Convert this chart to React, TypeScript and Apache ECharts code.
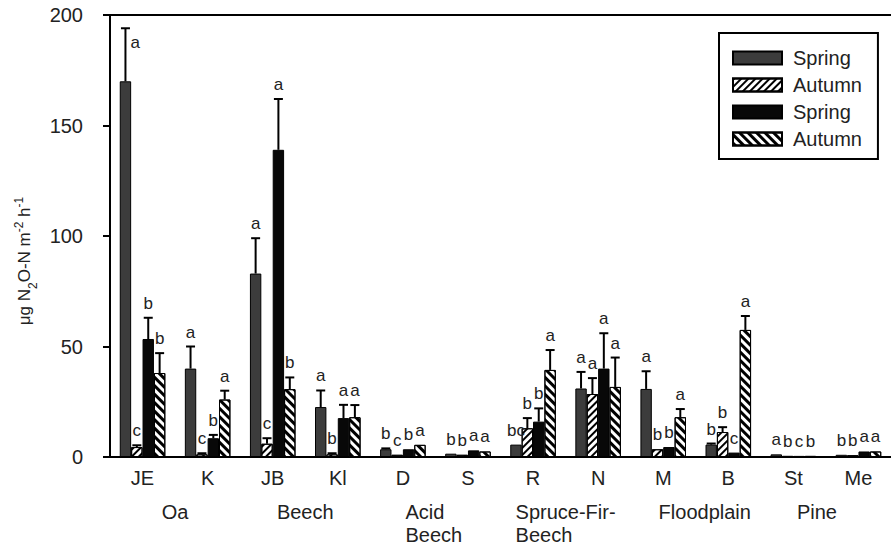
import React, { useEffect, useRef } from "react";
import * as echarts from "echarts";

const sites = ["JE", "K", "JB", "Kl", "D", "S", "R", "N", "M", "B", "St", "Me"];
const groups = ["Oa", "Beech", "Acid\nBeech", "Spruce-Fir-\nBeech", "Floodplain", "Pine"];
const yTicks = [0, 50, 100, 150, 200];

const spring1 = [170, 40, 83, 22.6, 3.5, 1.5, 5.6, 31, 30.8, 5.6, 1.2, 1.0];
const spring1Err = [24, 10, 16, 7.5, 0.4, 0, 0, 7.5, 8, 0.5, 0, 0];
const autumn1 = [4.5, 1.2, 6, 1.2, 1, 1, 13, 28.5, 3.5, 11.3, 0.5, 0.8];
const autumn1Err = [0.8, 0.5, 2.5, 0.5, 0, 0, 4.6, 7.2, 0, 2.2, 0, 0];
const spring2 = [53.4, 8.5, 139, 17.6, 3.5, 3, 16, 40, 4.5, 2, 0.5, 2.5];
const spring2Err = [9.6, 1.5, 23, 6, 0, 0, 6, 16, 0, 0, 0, 0];
const autumn2 = [38, 26, 30.7, 18, 5.5, 2.5, 39.4, 31.7, 18, 57.5, 0.5, 2.5];
const autumn2Err = [9, 4, 5.3, 5.5, 0, 0, 9, 13.3, 3.7, 6.3, 0, 0];

const spring1Letters = ["a", "a", "a", "a", "b", "b", "bc", "a", "a", "b", "a", "b"];
const autumn1Letters = ["c", "c", "c", "b", "c", "b", "b", "a", "b", "b", "b", "b"];
const spring2Letters = ["b", "b", "a", "a", "b", "a", "b", "a", "b", "c", "c", "a"];
const autumn2Letters = ["b", "a", "b", "a", "a", "a", "a", "a", "a", "a", "b", "a"];

const FONT = '"Liberation Sans", Arial, Helvetica, sans-serif';
const TXT = "#222";

const defs = [
  { name: "Spring 1", values: spring1, errs: spring1Err, letters: spring1Letters, color: "#3c3c3c", decal: null as any },
  {
    name: "Autumn 1", values: autumn1, errs: autumn1Err, letters: autumn1Letters, color: "#ffffff",
    decal: { symbol: "rect", symbolSize: 1, dashArrayX: [1, 0], dashArrayY: [1.3, 2.6], rotation: -Math.PI / 4, color: "#000" },
  },
  { name: "Spring 2", values: spring2, errs: spring2Err, letters: spring2Letters, color: "#080808", decal: null as any },
  {
    name: "Autumn 2", values: autumn2, errs: autumn2Err, letters: autumn2Letters, color: "#ffffff",
    decal: { symbol: "rect", symbolSize: 1, dashArrayX: [1, 0], dashArrayY: [2.2, 2.4], rotation: Math.PI / 4, color: "#000" },
  },
];

const CAT_GAP = 0.3;

function buildOption() {
  const barSeries = defs.map((d) => ({
    name: d.name,
    type: "bar",
    xAxisIndex: 0,
    yAxisIndex: 0,
    data: d.values,
    barGap: "0%",
    barCategoryGap: "30%",
    itemStyle: {
      color: d.color,
      borderColor: "#000",
      borderWidth: 1,
      ...(d.decal ? { decal: d.decal } : {}),
    },
    z: 2,
  }));

  const errSeries = defs.map((d, k) => ({
    name: d.name + " err",
    type: "custom",
    xAxisIndex: 0,
    yAxisIndex: 0,
    z: 5,
    data: sites.map((_, i) => [i, d.values[i], d.errs[i]]),
    encode: { x: 0, y: 1 },
    renderItem: (params: any, api: any) => {
      const ci = api.value(0);
      const v = api.value(1);
      const e = api.value(2);
      const base = api.coord([ci, v]);
      const top = api.coord([ci, v + e]);
      const plotTop = api.coord([ci, yTicks[yTicks.length - 1]])[1];
      const band = api.size([1, 0])[0];
      const bw = (band * (1 - CAT_GAP)) / 4;
      const cx = base[0] + (k - 1.5) * bw;
      const children: any[] = [];
      if (e > 0) {
        children.push({
          type: "line",
          shape: { x1: cx, y1: base[1], x2: cx, y2: top[1] },
          style: { stroke: "#000", lineWidth: 2 },
        });
        children.push({
          type: "line",
          shape: { x1: cx - 4.5, y1: top[1], x2: cx + 4.5, y2: top[1] },
          style: { stroke: "#000", lineWidth: 2 },
        });
      }
      const above = top[1] - 26 > plotTop;
      children.push({
        type: "text",
        x: above ? cx : cx + 5,
        y: above ? top[1] - 6 : top[1] + 6,
        style: {
          text: d.letters[params.dataIndex],
          fill: TXT,
          fontSize: 17,
          fontFamily: FONT,
          align: above ? "center" : "left",
          verticalAlign: above ? "bottom" : "top",
        },
      });
      return { type: "group", children };
    },
  }));

  return {
    animation: false,
    backgroundColor: "#fff",
    grid: { left: 110, right: -12, top: 15, bottom: 89, containLabel: false },
    legend: {
      data: defs.map((d) => d.name),
      orient: "vertical",
      left: 719,
      top: 33,
      itemWidth: 49,
      itemHeight: 13,
      itemGap: 7,
      padding: [15, 16, 10, 13],
      borderColor: "#000",
      borderWidth: 2,
      icon: "rect",
      formatter: (name: string) => name.split(" ")[0],
      textStyle: { fontSize: 20, fontFamily: FONT, color: TXT, lineHeight: 19, padding: [0, 0, 0, 6] },
    },
    xAxis: [
      {
        type: "category",
        data: sites,
        position: "bottom",
        axisLine: { show: true, lineStyle: { color: "#000", width: 2 } },
        axisTick: { show: false },
        axisLabel: { interval: 0, fontSize: 20, fontFamily: FONT, color: TXT, margin: 11 },
        splitLine: { show: false },
      },
      {
        type: "category",
        data: groups,
        position: "bottom",
        offset: 35,
        axisLine: { show: false },
        axisTick: { show: false },
        splitLine: { show: false },
        axisLabel: {
          interval: 0,
          margin: 8,
          formatter: (v: string, i: number) => {
            const key = ["n", "n", "l1", "l2", "fp", "pn"][i] || "n";
            return v
              .split("\n")
              .map((s) => `{${key}|${s}}`)
              .join("\n");
          },
          rich: {
            n: { fontSize: 20, fontFamily: FONT, color: TXT, lineHeight: 23 },
            l1: { fontSize: 20, fontFamily: FONT, color: TXT, lineHeight: 23, width: 60, align: "left" },
            l2: { fontSize: 20, fontFamily: FONT, color: TXT, lineHeight: 23, width: 100, align: "left" },
            fp: { fontSize: 20, fontFamily: FONT, color: TXT, lineHeight: 23, padding: [0, 0, 0, 18] },
            pn: { fontSize: 20, fontFamily: FONT, color: TXT, lineHeight: 23, padding: [0, 18, 0, 0] },
          },
        },
      },
      {
        type: "category",
        data: sites,
        position: "top",
        axisLine: { show: true, lineStyle: { color: "#000", width: 2 } },
        axisTick: { show: false },
        axisLabel: { show: false },
        splitLine: { show: false },
      },
    ],
    yAxis: {
      type: "value",
      min: yTicks[0],
      max: yTicks[yTicks.length - 1],
      interval: 50,
      axisLine: { show: true, lineStyle: { color: "#000", width: 2 } },
      axisTick: { show: true, length: 7, lineStyle: { color: "#000", width: 2 } },
      axisLabel: { fontSize: 20, fontFamily: FONT, color: TXT, margin: 27 },
      splitLine: { show: false },
      name: "{t|μg N}{sub|2}{t|O-N m}{sup|-2}{t| h}{sup|-1}",
      nameLocation: "middle",
      nameGap: 72,
      nameTextStyle: {
        padding: [0, 50, 0, 0],
        rich: {
          t: { fontSize: 17, fontFamily: FONT, color: TXT, lineHeight: 24 },
          sub: { fontSize: 12, fontFamily: FONT, color: TXT, verticalAlign: "bottom", lineHeight: 24, padding: [0, 0, -2, 0] },
          sup: { fontSize: 12, fontFamily: FONT, color: TXT, verticalAlign: "top", lineHeight: 24 },
        },
      },
    },
    series: [...barSeries, ...errSeries],
  };
}

export default function App() {
  const ref = useRef<HTMLDivElement>(null);
  useEffect(() => {
    if (!ref.current) return;
    const chart = echarts.init(ref.current, null, { renderer: "svg" });
    chart.setOption(buildOption() as any);
    return () => chart.dispose();
  }, []);
  return (
    <div
      ref={ref}
      style={{ position: "fixed", left: 0, top: 0, width: 891, height: 546, background: "#fff" }}
    />
  );
}
